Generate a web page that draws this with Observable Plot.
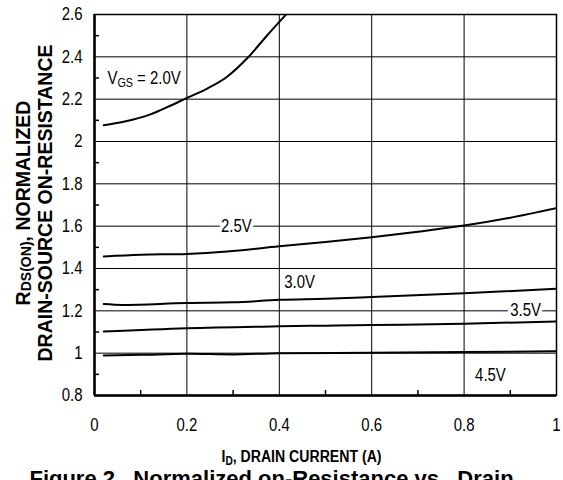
<!DOCTYPE html>
<html>
<head>
<meta charset="utf-8">
<script src="https://cdn.jsdelivr.net/npm/d3@7"></script>
<script src="https://cdn.jsdelivr.net/npm/@observablehq/plot@0.6"></script>
<style>
  html, body { margin: 0; padding: 0; background: #fff; }
  svg text { white-space: pre; }
</style>
</head>
<body>
<div id="chart"></div>
<script>
// ---- data ----
const xTicks = [0, 0.2, 0.4, 0.6, 0.8, 1];
const xMinor = [0.1, 0.3, 0.5, 0.7, 0.9];
const yTicks = [0.8, 1, 1.2, 1.4, 1.6, 1.8, 2, 2.2, 2.4, 2.6];
const yMinor = [0.9, 1.1, 1.3, 1.5, 1.7, 1.9, 2.1, 2.3, 2.5];

const vgs20 = [[0.02,2.077],[0.063,2.093],[0.121,2.128],[0.164,2.169],[0.2,2.206],[0.244,2.250],[0.287,2.306],[0.33,2.392],[0.374,2.502],[0.417,2.605]];
const vgs25 = [[0.02,1.457],[0.1,1.465],[0.2,1.469],[0.287,1.480],[0.4,1.505],[0.5,1.525],[0.6,1.548],[0.7,1.574],[0.8,1.603],[0.9,1.640],[1.0,1.685]];
const vgs30 = [[0.02,1.232],[0.06,1.228],[0.2,1.237],[0.3,1.240],[0.4,1.252],[0.5,1.257],[0.6,1.265],[0.8,1.283],[1.0,1.304]];
const vgs35 = [[0.02,1.102],[0.2,1.118],[0.4,1.127],[0.5,1.130],[0.6,1.133],[0.8,1.139],[1.0,1.150]];
const vgs45 = [[0.02,0.989],[0.1,0.992],[0.2,0.997],[0.3,0.994],[0.4,1.000],[0.6,1.002],[0.8,1.005],[1.0,1.009]];

const curveLabels = [
  {text: "2.5V", x: 0.307, y: 1.6},
  {text: "3.0V", x: 0.444, y: 1.334},
  {text: "3.5V", x: 0.933, y: 1.205},
  {text: "4.5V", x: 0.857, y: 0.894}
];
const vgsLabel = {text: "VGS = 2.0V", x: 0.028, y: 2.30};

const xTitle = "ID, DRAIN CURRENT (A)";
const yTitle1 = "RDS(ON), NORMALIZED";
const yTitle2 = "DRAIN-SOURCE ON-RESISTANCE";
const caption = "Figure 2.  Normalized on-Resistance vs.  Drain";

// ---- build ----
const series = [vgs20, vgs25, vgs30, vgs35, vgs45];
const W = 563, H = 480, mL = 94, mR = 7, mT = 14, mB = 85;
const pw = W - mL - mR, ph = H - mT - mB;
const font = "'Liberation Sans', Arial, sans-serif";

const plot = Plot.plot({
  width: W, height: H,
  marginLeft: mL, marginRight: mR, marginTop: mT, marginBottom: mB,
  style: {fontFamily: font, fontSize: "17px", background: "#fff", color: "#000"},
  x: {domain: [0, 1]},
  y: {domain: [0.8, 2.6]},
  marks: [
    Plot.gridX(xTicks.slice(1, -1), {stroke: "#000", strokeOpacity: 1, strokeWidth: 1}),
    Plot.gridY(yTicks.slice(1, -1), {stroke: "#000", strokeOpacity: 1, strokeWidth: 1}),
    Plot.text(curveLabels, {x: "x", y: "y", text: "text", fontSize: 18, fill: "#000",
      stroke: "#fff", strokeWidth: 8, paintOrder: "stroke"}),
    Plot.text([vgsLabel], {x: "x", y: "y", text: "text", fontSize: 18, fill: "#000", textAnchor: "start"}),
    ...series.map(s => Plot.line(s, {x: d => d[0], y: d => d[1], stroke: "#000", strokeWidth: 2, curve: "monotone-x", clip: true})),
    Plot.frame({stroke: "#000", strokeWidth: 1.5}),
    Plot.ruleY([0.8], {stroke: "#000", strokeWidth: 2.5}),
    Plot.ruleX([0], {stroke: "#000", strokeWidth: 2.5}),
    Plot.tickX(xMinor, {x: d => d, stroke: "#000", strokeWidth: 1.5, insetTop: ph - 5}),
    Plot.tickY(yMinor, {y: d => d, stroke: "#000", strokeWidth: 1.5, insetRight: pw - 5}),
    Plot.axisX(xTicks, {tickSize: 0, tickPadding: 23, label: null, tickFormat: d => String(d), fontSize: 18}),
    Plot.axisY(yTicks, {tickSize: 0, tickPadding: 12, label: null, tickFormat: d => String(d), fontSize: 18}),
    Plot.text([xTitle], {frameAnchor: "bottom", textAnchor: "middle", dx: -24, dy: 66, fontWeight: "bold", fontSize: 17, fill: "#000"}),
    Plot.text([caption], {frameAnchor: "bottom", textAnchor: "middle", dx: -54, dy: 90, fontWeight: "bold", fontSize: 22, fill: "#000"}),
    Plot.text([yTitle1], {frameAnchor: "left", textAnchor: "middle", rotate: -90, dx: -71, dy: -2, fontWeight: "bold", fontSize: 19.5, fill: "#000"}),
    Plot.text([yTitle2], {frameAnchor: "left", textAnchor: "middle", rotate: -90, dx: -49, dy: -2, fontWeight: "bold", fontSize: 19.5, fill: "#000"})
  ]
});

// subscripts
function subscript(full, pre, sub, post, shift) {
  d3.select(plot).selectAll("text").filter(function() { return this.textContent === full; })
    .each(function() {
      const t = d3.select(this);
      t.text(null);
      t.append("tspan").text(pre);
      t.append("tspan").attr("font-size", "72%").attr("dy", shift + "em").text(sub);
      t.append("tspan").attr("dy", (-shift * 0.72) + "em").text(post);
    });
}
// condensed look of the original typeface
function condense(sel, k) {
  sel.each(function() {
    const tr = this.getAttribute("transform") || "";
    this.setAttribute("transform", tr + ` scale(${k},1)`);
  });
}
const narrowTexts = new Set([...curveLabels.map(d => d.text), vgsLabel.text, xTitle,
  ...xTicks.map(String), ...yTicks.map(String)]);
condense(d3.select(plot).selectAll("text").filter(function() { return narrowTexts.has(this.textContent); }), 0.83);

subscript(yTitle1, "R", "DS(ON)", ", NORMALIZED", 0.12);
subscript(vgsLabel.text, "V", "GS", " = 2.0V", 0.25);
subscript(xTitle, "I", "D", ", DRAIN CURRENT (A)", 0.25);

document.getElementById("chart").appendChild(plot);
</script>
</body>
</html>
